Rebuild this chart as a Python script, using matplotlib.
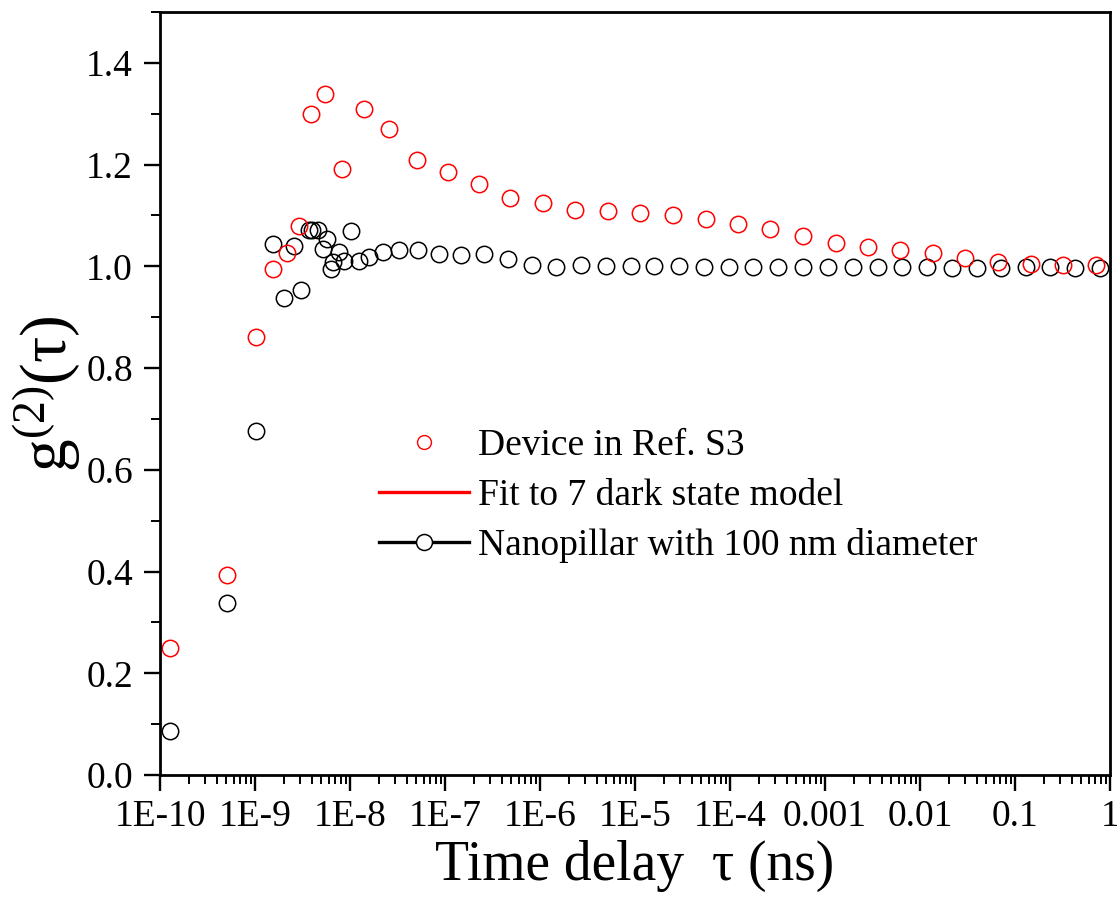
import matplotlib
matplotlib.use("Agg")
import matplotlib.pyplot as plt
from matplotlib.lines import Line2D
from matplotlib.ticker import LogLocator, FixedLocator, MultipleLocator, FixedFormatter

plt.rcParams['font.family'] = ['Liberation Serif', 'DejaVu Serif']
plt.rcParams['mathtext.fontset'] = 'custom'
plt.rcParams['mathtext.rm'] = 'Liberation Serif'
plt.rcParams['mathtext.default'] = 'regular'

# Device in Ref. S3 (red open circles)
red_x = [1.27e-10, 5.12e-10, 1.03e-9, 1.55e-9, 2.16e-9, 2.92e-9, 3.87e-9, 5.48e-9, 8.28e-9,
         1.40e-8, 2.57e-8, 5.11e-8, 1.08e-7, 2.28e-7, 4.88e-7, 1.08e-6, 2.34e-6, 5.17e-6,
         1.14e-5, 2.50e-5, 5.53e-5, 1.21e-4, 2.66e-4, 5.87e-4, 1.29e-3, 2.84e-3, 6.23e-3,
         1.37e-2, 3.01e-2, 6.65e-2, 0.147, 0.322, 0.718]
red_y = [0.249, 0.393, 0.862, 0.994, 1.027, 1.079, 1.300, 1.338, 1.192,
         1.310, 1.270, 1.209, 1.186, 1.161, 1.135, 1.124, 1.110, 1.108,
         1.105, 1.100, 1.094, 1.084, 1.073, 1.060, 1.046, 1.038, 1.033,
         1.027, 1.017, 1.008, 1.004, 1.003, 1.002]

# Nanopillar with 100 nm diameter (black open circles)
black_x = [1.27e-10, 5.12e-10, 1.03e-9, 1.54e-9, 2.04e-9, 2.57e-9, 3.04e-9, 3.66e-9, 3.97e-9,
           4.63e-9, 5.18e-9, 5.75e-9, 6.29e-9, 6.70e-9, 7.75e-9, 8.75e-9, 1.02e-8, 1.23e-8,
           1.58e-8, 2.20e-8, 3.24e-8, 5.14e-8, 8.57e-8, 1.46e-7, 2.58e-7, 4.57e-7, 8.32e-7,
           1.49e-6, 2.71e-6, 4.92e-6, 8.97e-6, 1.60e-5, 2.94e-5, 5.36e-5, 9.66e-5, 1.76e-4,
           3.20e-4, 5.82e-4, 1.07e-3, 1.95e-3, 3.57e-3, 6.47e-3, 1.19e-2, 2.16e-2, 3.94e-2,
           7.1e-2, 0.129, 0.235, 0.425, 0.785]
black_y = [0.086, 0.339, 0.677, 1.043, 0.937, 1.039, 0.954, 1.072, 1.071,
           1.072, 1.034, 1.054, 0.994, 1.008, 1.028, 1.010, 1.070, 1.011,
           1.018, 1.028, 1.033, 1.033, 1.024, 1.022, 1.025, 1.015, 1.002,
           0.999, 1.003, 1.001, 1.001, 1.000, 1.000, 0.999, 0.999, 0.999,
           0.999, 0.998, 0.998, 0.998, 0.998, 0.998, 0.998, 0.997, 0.997,
           0.997, 0.998, 0.998, 0.997, 0.997]

x_ticks = [1e-10, 1e-9, 1e-8, 1e-7, 1e-6, 1e-5, 1e-4, 1e-3, 1e-2, 1e-1, 1]
x_tick_labels = ['1E-10', '1E-9', '1E-8', '1E-7', '1E-6', '1E-5', '1E-4', '0.001', '0.01', '0.1', '1']
y_ticks = [0.0, 0.2, 0.4, 0.6, 0.8, 1.0, 1.2, 1.4]
y_tick_labels = ['0.0', '0.2', '0.4', '0.6', '0.8', '1.0', '1.2', '1.4']

legend_labels = ['Device in Ref. S3', 'Fit to 7 dark state model', 'Nanopillar with 100 nm diameter']

fig = plt.figure(figsize=(11.17, 9.01), dpi=100)
ax = fig.add_axes([160/1117, 1-775/901, (1110-160)/1117, (775-12)/901])

ax.plot(black_x, black_y, linestyle='none', marker='o', markersize=11.8,
        markerfacecolor='none', markeredgecolor='black', markeredgewidth=1.1)
ax.plot(red_x, red_y, linestyle='none', marker='o', markersize=11.8,
        markerfacecolor='none', markeredgecolor='#ff0000', markeredgewidth=1.1)

ax.set_xscale('log')
ax.set_xlim(1e-10, 1)
ax.set_ylim(0, 1.5)

ax.xaxis.set_major_locator(FixedLocator(x_ticks))
ax.xaxis.set_major_formatter(FixedFormatter(x_tick_labels))
ax.xaxis.set_minor_locator(LogLocator(base=10, subs=[2, 3, 4, 5, 6, 7, 8, 9], numticks=100))
ax.yaxis.set_major_locator(FixedLocator(y_ticks))
ax.yaxis.set_major_formatter(FixedFormatter(y_tick_labels))
ax.yaxis.set_minor_locator(MultipleLocator(0.1))

for s in ax.spines.values():
    s.set_linewidth(2.0)

ax.tick_params(which='major', direction='out', length=11.5, width=1.7, labelsize=27,
               top=False, right=False)
ax.tick_params(which='minor', direction='out', length=6.5, width=1.4, top=False, right=False)
ax.tick_params(axis='x', which='major', pad=6)
ax.tick_params(axis='y', which='major', pad=8)

ax.set_xlabel('Time delay  τ (ns)', fontsize=40, labelpad=4)
ax.set_ylabel('g$^{(2)}$(τ)', fontsize=47, labelpad=2)

handles = [
    Line2D([], [], linestyle='none', marker='o', markersize=10, markerfacecolor='none',
           markeredgecolor='#ff0000', markeredgewidth=1.0),
    Line2D([], [], color='#ff0000', linewidth=2.4),
    Line2D([], [], color='black', linewidth=2.4, marker='o', markersize=11.5,
           markerfacecolor='white', markeredgecolor='black', markeredgewidth=1.1),
]
ax.legend(handles, legend_labels, loc='center left', bbox_to_anchor=(0.2305, 0.366),
          frameon=False, fontsize=27, handlelength=2.4, handletextpad=0.25,
          labelspacing=0.4, borderpad=0, borderaxespad=0)

fig.savefig('out.png', dpi=100)
